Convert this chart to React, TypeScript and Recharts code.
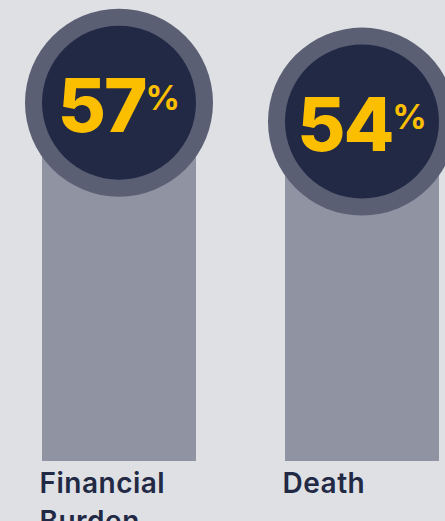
import React from 'react';
import { BarChart, Bar, XAxis, YAxis } from 'recharts';

const categories = ['Financial Burden', 'Death'];
const shares = [57, 54];

const data = categories.map((name, i) => ({ name, value: shares[i] }));

const BG = '#dfe0e4';
const BAR = '#8f93a2';
const RING = '#5a5f74';
const CORE = '#222945';
const GOLD = '#fbbf00';
const FONT = 'Inter, "Noto Sans", sans-serif';

const BAR_SIZE = 154;

const BubbleBar = (props: any) => {
  const { x, y, width, height, value } = props;
  const cx = x + width / 2;
  return (
    <g>
      <rect x={x} y={y} width={width} height={height} fill={BAR} />
      <circle cx={cx} cy={y} r={94} fill={RING} />
      <circle cx={cx} cy={y} r={77} fill={CORE} />
      <text x={cx} y={y + 29} textAnchor="middle" fill={GOLD} fontFamily={FONT} fontWeight={800}>
        <tspan fontSize={74} letterSpacing={-2}>{value}</tspan>
        <tspan fontSize={34} fontWeight={700} dy={-22}>%</tspan>
      </text>
    </g>
  );
};

const CategoryTick = (props: any) => {
  const { x, y, payload } = props;
  const words = String(payload.value).split(' ');
  const left = x - BAR_SIZE / 2 - 2;
  return (
    <text x={left} y={y + 32} fill={CORE} fontFamily={FONT} fontWeight={600} fontSize={28} letterSpacing={0.5}>
      {words.map((w, i) => (
        <tspan key={w} x={left} dy={i === 0 ? 0 : 38}>
          {w}
        </tspan>
      ))}
    </text>
  );
};

export default function App() {
  return (
    <div
      style={{
        position: 'absolute',
        left: 0,
        top: 0,
        width: 445,
        height: 521,
        overflow: 'hidden',
        background: BG,
      }}
    >
      <div style={{ marginLeft: -3 }}>
        <BarChart width={486} height={560} data={data} margin={{ top: 21, right: 0, left: 0, bottom: 0 }}>
          <XAxis
            dataKey="name"
            axisLine={false}
            tickLine={false}
            tickSize={0}
            tickMargin={0}
            height={99}
            interval={0}
            tick={<CategoryTick />}
          />
          <YAxis hide domain={[0, 70]} />
          <Bar dataKey="value" barSize={BAR_SIZE} shape={<BubbleBar />} isAnimationActive={false} />
        </BarChart>
      </div>
    </div>
  );
}
